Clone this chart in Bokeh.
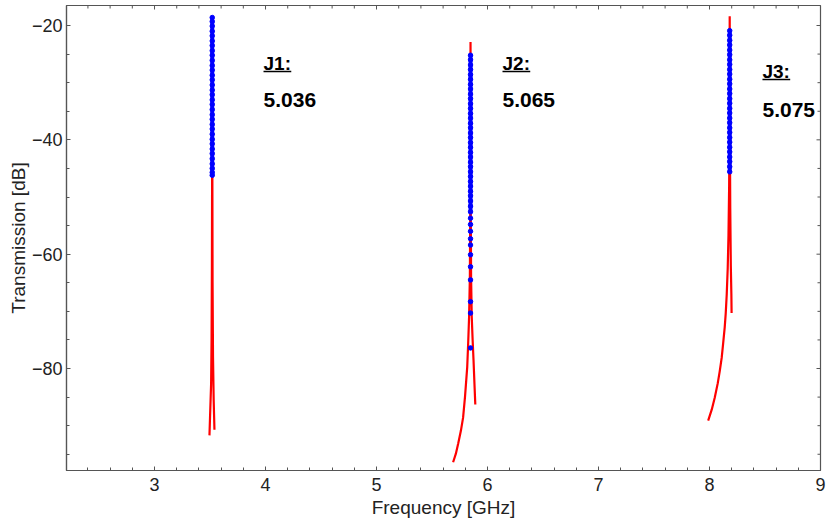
import math
from bokeh.plotting import figure
from bokeh.models import FixedTicker, Range1d
from bokeh.embed import file_html
from bokeh.resources import INLINE
from bokeh.core.properties import value

# ---- data ----
j1_red_f = [3.495, 3.500, 3.505, 3.510, 3.514, 3.517, 3.519, 3.520, 3.521, 3.523, 3.527, 3.533, 3.540]
j1_red_db = [-91.7, -88.6, -85.6, -82.6, -75.0, -62.0, -45.0, -18.6, -45.0, -65.0, -78.0, -85.5, -90.7]

j2_red_f = [5.690, 5.715, 5.736, 5.760, 5.780, 5.797, 5.817, 5.826, 5.834, 5.841, 5.845, 5.847,
            5.849, 5.852, 5.858, 5.866, 5.874, 5.882, 5.890]
j2_red_db = [-96.4, -94.9, -93.1, -90.9, -88.6, -85.0, -79.8, -75.5, -71.0, -64.0, -50.0, -22.9,
             -50.0, -64.0, -71.0, -75.0, -78.5, -82.5, -86.3]

j3_red_f = [7.988, 8.020, 8.047, 8.074, 8.092, 8.110, 8.123, 8.137, 8.146, 8.155, 8.164, 8.171,
            8.177, 8.180, 8.182, 8.184, 8.187, 8.192, 8.197, 8.199]
j3_red_db = [-89.1, -87.2, -85.1, -82.6, -80.5, -78.1, -75.6, -72.8, -70.4, -67.1, -62.5, -56.7,
             -48.0, -38.0, -18.4, -40.0, -52.0, -62.0, -67.0, -70.3]

j1_blue_f = 3.520
j1_blue_db = [-18.6, -19.3, -20.1, -21.0, -21.8, -22.7, -23.5, -24.4, -25.2, -26.1, -27.0, -27.8,
              -28.7, -29.5, -30.4, -31.3, -32.1, -33.0, -33.8, -34.7, -35.6, -36.4, -37.3, -38.1,
              -39.0, -39.9, -40.7, -41.6, -42.4, -43.3, -44.2, -45.0, -45.7, -46.2]

j2_blue_f = 5.847
j2_blue_db = [-25.2, -26.0, -26.9, -27.7, -28.6, -29.4, -30.3, -31.1, -32.0, -32.8, -33.7, -34.5,
              -35.4, -36.2, -37.1, -37.9, -38.8, -39.6, -40.5, -41.3, -42.2, -43.0, -43.9, -44.7,
              -45.6, -46.4, -47.3, -48.1, -49.0, -49.8, -50.7, -51.6, -52.6]
j2_blue_sparse_db = [-53.7, -54.8, -56.0, -57.3, -58.4, -60.1, -62.2, -64.5, -68.3, -70.3, -76.4]

j3_blue_f = 8.182
j3_blue_db = [-20.9, -21.7, -22.6, -23.4, -24.3, -25.1, -26.0, -26.8, -27.7, -28.5, -29.4, -30.2,
              -31.1, -31.9, -32.8, -33.6, -34.5, -35.3, -36.2, -37.0, -37.9, -38.7, -39.6, -40.4,
              -41.3, -42.1, -43.0, -43.8, -44.7, -45.6]

ann_title = ["J1:", "J2:", "J3:"]
ann_value = ["5.036", "5.065", "5.075"]
ann_f = [3.982, 6.135, 8.477]
ann_title_db = [-26.6, -26.6, -28.0]
ann_value_db = [-33.0, -33.0, -34.7]

x_major = [3, 4, 5, 6, 7, 8, 9]
x_labels = ["3", "4", "5", "6", "7", "8", "9"]
y_major = [-80, -60, -40, -20]
y_labels = ["\u221280", "\u221260", "\u221240", "\u221220"]

X0, X1 = 2.207, 9.0
Y0, Y1 = -97.84, -16.5

x_minor = [round(2.4 + 0.2 * i, 1) for i in range(33) if abs((2.4 + 0.2 * i) - round(2.4 + 0.2 * i)) > 1e-6]
y_minor = [-95 + 5 * i for i in range(16) if (-95 + 5 * i) % 20 != 0]

FONT = "Liberation Sans"
AXIS_COL = "#555555"
TXT_COL = "#222222"

p = figure(width=826, height=524,
           x_range=Range1d(X0, X1), y_range=Range1d(Y0, Y1),
           output_backend="svg", toolbar_location=None,
           min_border_left=66, min_border_right=6, min_border_top=5, min_border_bottom=54)
p.grid.visible = False
p.outline_line_color = AXIS_COL
p.outline_line_width = 1.2
p.background_fill_color = "white"
p.border_fill_color = "white"

xt = FixedTicker(ticks=x_major, minor_ticks=x_minor)
yt = FixedTicker(ticks=y_major, minor_ticks=y_minor)

def style_axis(ax):
    ax.axis_line_color = AXIS_COL
    ax.axis_line_width = 1.2
    ax.major_tick_line_color = AXIS_COL
    ax.minor_tick_line_color = AXIS_COL
    ax.major_tick_in = 4
    ax.major_tick_out = 0
    ax.minor_tick_in = 3
    ax.minor_tick_out = 0
    ax.major_label_text_font = FONT
    ax.major_label_text_font_size = "18px"
    ax.major_label_text_color = TXT_COL
    ax.axis_label_text_font = FONT
    ax.axis_label_text_font_size = "19px"
    ax.axis_label_text_font_style = "normal"
    ax.axis_label_text_color = TXT_COL

xa = p.xaxis[0]
xa.ticker = xt
xa.major_label_overrides = dict(zip(x_major, x_labels))
xa.axis_label = "Frequency [GHz]"
style_axis(xa)
xa.major_label_standoff = 7
xa.axis_label_standoff = 3

ya = p.yaxis[0]
ya.ticker = yt
ya.major_label_overrides = dict(zip(y_major, y_labels))
ya.axis_label = "Transmission [dB]"
style_axis(ya)
ya.major_label_standoff = 4
ya.axis_label_standoff = 0

# mirrored ticks on the top and right frame edges (half of each dash is clipped by the frame)
p.scatter(x_major, [Y1] * len(x_major), marker="dash", angle=math.pi / 2, size=8,
          line_color=AXIS_COL, line_width=1)
p.scatter(x_minor, [Y1] * len(x_minor), marker="dash", angle=math.pi / 2, size=6,
          line_color=AXIS_COL, line_width=1)
p.scatter([X1] * len(y_major), y_major, marker="dash", size=8, line_color=AXIS_COL, line_width=1)
p.scatter([X1] * len(y_minor), y_minor, marker="dash", size=6, line_color=AXIS_COL, line_width=1)

# red resonance curves
for f, db in [(j1_red_f, j1_red_db), (j2_red_f, j2_red_db), (j3_red_f, j3_red_db)]:
    p.line(f, db, line_color="#ff0000", line_width=2.2)

# blue measured points (dense runs read as a solid column)
BLUE = "#0000ff"
for f0, dbs in [(j1_blue_f, j1_blue_db), (j2_blue_f, j2_blue_db), (j3_blue_f, j3_blue_db)]:
    p.line([f0] * len(dbs), dbs, line_color=BLUE, line_width=4)
    p.scatter([f0] * len(dbs), dbs, size=4.5, marker="circle", fill_color=BLUE, line_color=BLUE)
p.scatter([j2_blue_f] * len(j2_blue_sparse_db), j2_blue_sparse_db, size=4.5, marker="circle",
          fill_color=BLUE, line_color=BLUE)

# annotations
p.text(ann_f, ann_title_db, text=ann_title, text_font=value(FONT), text_font_style="bold",
       text_font_size="19px", text_baseline="alphabetic", text_align="left", text_color="black")
p.text(ann_f, ann_value_db, text=ann_value, text_font=value(FONT), text_font_style="bold",
       text_font_size="21px", text_baseline="alphabetic", text_align="left", text_color="black")
# underline under the titles ("Jn:" is about 0.25 GHz wide at this scale)
ul_len = 0.25
ul_off = 1.45
p.segment(x0=ann_f, y0=[d - ul_off for d in ann_title_db],
          x1=[f + ul_len for f in ann_f], y1=[d - ul_off for d in ann_title_db],
          line_color="black", line_width=1.5)

open("out.html", "w").write(file_html(p, INLINE))
